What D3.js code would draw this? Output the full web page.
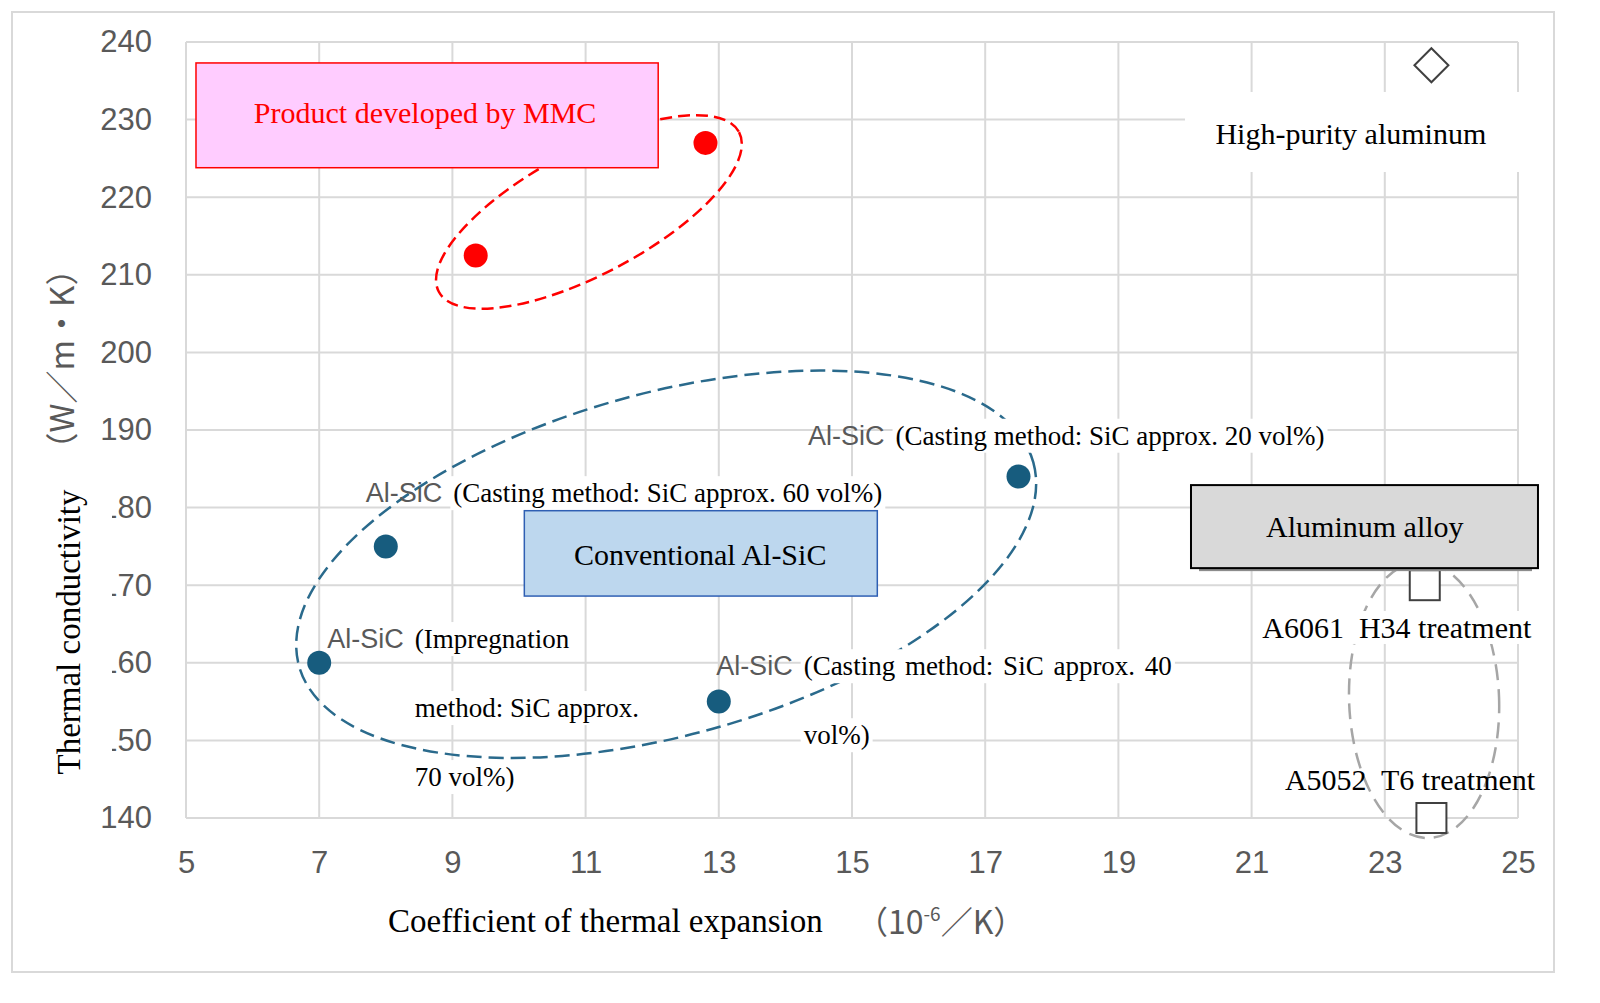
<!DOCTYPE html>
<html>
<head>
<meta charset="utf-8">
<script src="https://cdn.jsdelivr.net/npm/d3@7"></script>
<style>
  body { margin: 0; background: #fff; }
  svg { display: block; }
</style>
</head>
<body>
<svg id="chart" width="1600" height="1003"></svg>
<script>
// tick values
const xTicks = [5, 7, 9, 11, 13, 15, 17, 19, 21, 23, 25];
const yTicks = [140, 150, 160, 170, 180, 190, 200, 210, 220, 230, 240];

// series (CTE, thermal conductivity)
const mmcPoints = [{x: 9.35, y: 212.5}, {x: 12.8, y: 227}];
const alsicPoints = [{x: 7, y: 160}, {x: 8, y: 175}, {x: 13, y: 155}, {x: 17.5, y: 184}];
const pureAlPoints = [{x: 23.7, y: 237}];
const alloyPoints = [{x: 23.6, y: 170}, {x: 23.7, y: 140}];

// point labels (anchored in data units)
const alsicLabels = [
  {x: 14.34, y: 188.1, head: 'Al-SiC', lines: ['(Casting method: SiC approx. 20 vol%)']},
  {x: 7.70, y: 180.7, head: 'Al-SiC', lines: ['(Casting method: SiC approx. 60 vol%)']},
  {x: 7.12, y: 161.9, head: 'Al-SiC', lines: ['(Impregnation', 'method: SiC approx.', '70 vol%)']},
  {x: 12.96, y: 158.4, head: 'Al-SiC', lines: ['(Casting method: SiC approx. 40', 'vol%)'], spread: 3}
];
const alloyLabels = [
  {x: 21.16, y: 163.2, text: 'A6061  H34 treatment', bg: true},
  {x: 21.50, y: 143.6, text: 'A5052  T6 treatment', bg: false}
];

// group boxes
const groupBoxes = [
  {x0: 5.15, x1: 12.09, y0: 237.3, y1: 223.8, tx: 8.59, ty: 229.6, text: 'Product developed by MMC',
   fill: '#ffccff', stroke: '#ff0000', color: '#ff0000', shadow: false},
  {x0: 10.08, x1: 15.38, y0: 179.6, y1: 168.6, tx: 12.72, ty: 172.6, text: 'Conventional Al-SiC',
   fill: '#bdd7ee', stroke: '#2f5fb3', color: '#000', shadow: false},
  {x0: 20.09, x1: 25.30, y0: 182.9, y1: 172.2, tx: 22.70, ty: 176.2, text: 'Aluminum alloy',
   fill: '#d9d9d9', stroke: '#000', color: '#000', shadow: true}
];

// dashed group outlines: centre in data units, radii in px, angle in degrees
const groupEllipses = [
  {cx: 11.05, cy: 218.1, rx: 170, ry: 62, angle: -28, color: '#ff0000', dash: '12,6'},
  {cx: 12.21, cy: 172.7, rx: 381, ry: 171, angle: -15.5, color: '#2a6a8c', dash: '15,7'},
  {cx: 23.59, cy: 155.2, rx: 75, ry: 138, angle: -2, color: '#a6a6a6', dash: '16,9'}
];

const serif = '"Liberation Serif", "Times New Roman", serif';
const sans = '"Liberation Sans", Arial, sans-serif';
const cjk = '"Noto Sans CJK JP", sans-serif';
const grey = '#595959';

const svg = d3.select('#chart');
const margin = {left: 186, right: 82, top: 42, bottom: 185};
const width = 1600, height = 1003;

const xScale = d3.scaleLinear().domain([5, 25]).range([margin.left, width - margin.right]);
const yScale = d3.scaleLinear().domain([140, 240]).range([height - margin.bottom, margin.top]);

// outer frame
svg.append('rect')
  .attr('x', 12).attr('y', 12).attr('width', 1542).attr('height', 960)
  .attr('fill', '#fff').attr('stroke', '#d9d9d9').attr('stroke-width', 2);

// grid
const grid = svg.append('g').attr('class', 'grid');
grid.selectAll('.vgrid').data(xTicks).enter().append('line')
  .attr('x1', d => xScale(d)).attr('x2', d => xScale(d))
  .attr('y1', yScale(240)).attr('y2', yScale(140))
  .attr('stroke', '#d9d9d9').attr('stroke-width', 2);
grid.selectAll('.hgrid').data(yTicks).enter().append('line')
  .attr('y1', d => yScale(d)).attr('y2', d => yScale(d))
  .attr('x1', xScale(5)).attr('x2', xScale(25))
  .attr('stroke', '#d9d9d9').attr('stroke-width', 2);

// axes (labels only, domain and ticks hidden)
const xAxis = d3.axisBottom(xScale).tickValues(xTicks).tickSize(0).tickPadding(33);
const xAxisG = svg.append('g').attr('transform', `translate(0, ${yScale(140)})`).call(xAxis);
xAxisG.select('.domain').remove();
xAxisG.selectAll('text').attr('font-family', sans).attr('font-size', 31).attr('fill', grey);

const yAxis = d3.axisLeft(yScale).tickValues(yTicks).tickSize(0).tickPadding(34);
const yAxisG = svg.append('g').attr('transform', `translate(${xScale(5)}, 0)`).call(yAxis);
yAxisG.select('.domain').remove();
yAxisG.selectAll('text').attr('font-family', sans).attr('font-size', 31).attr('fill', grey);

// y title: its white text box sits over the leading digit of some tick labels
svg.append('rect')
  .attr('x', 40).attr('y', 482).attr('width', 72).attr('height', 300).attr('fill', '#fff');
svg.append('text')
  .attr('transform', `translate(80, 632) rotate(-90)`)
  .attr('text-anchor', 'middle')
  .attr('font-family', serif).attr('font-size', 33).attr('fill', '#000')
  .text('Thermal conductivity');
svg.append('text')
  .attr('transform', `translate(74, 359) rotate(-90)`)
  .attr('text-anchor', 'middle')
  .attr('font-family', cjk).attr('font-size', 33).attr('fill', grey)
  .text('（W／m・K）');

// x title
svg.append('text')
  .attr('x', 388).attr('y', 932)
  .attr('font-family', serif).attr('font-size', 33).attr('fill', '#000')
  .text('Coefficient of thermal expansion');
const unit = svg.append('text')
  .attr('x', 856).attr('y', 934)
  .attr('font-family', cjk).attr('font-size', 32).attr('fill', grey);
unit.append('tspan').text('（10');
unit.append('tspan').attr('font-size', 19).attr('dy', -13).text('-6');
unit.append('tspan').attr('dy', 13).text('／K）');

// white backing behind the high-purity label
svg.append('rect')
  .attr('x', xScale(20.0)).attr('y', yScale(233.56))
  .attr('width', xScale(25.03) - xScale(20.0)).attr('height', yScale(223.25) - yScale(233.56))
  .attr('fill', '#fff');
svg.append('text')
  .attr('x', xScale(22.49)).attr('y', yScale(226.86))
  .attr('text-anchor', 'middle')
  .attr('font-family', serif).attr('font-size', 30).attr('fill', '#000')
  .text('High-purity aluminum');

// ellipses
svg.selectAll('.group-ellipse').data(groupEllipses).enter().append('ellipse')
  .attr('class', 'group-ellipse')
  .attr('transform', d => `translate(${xScale(d.cx)}, ${yScale(d.cy)}) rotate(${d.angle})`)
  .attr('rx', d => d.rx).attr('ry', d => d.ry)
  .attr('fill', 'none')
  .attr('stroke', d => d.color).attr('stroke-width', 2.5)
  .attr('stroke-dasharray', d => d.dash);

// Al-SiC labels
const lineGap = 69;
alsicLabels.forEach(l => {
  const g = svg.append('g');
  const x0 = xScale(l.x), y0 = yScale(l.y);
  const bgG = g.append('g');
  const head = g.append('text')
    .attr('x', x0).attr('y', y0)
    .attr('font-family', sans).attr('font-size', 27).attr('fill', grey)
    .text(l.head);
  const bodyX = x0 + head.node().getComputedTextLength() + 11;
  l.lines.forEach((line, i) => {
    const t = g.append('text')
      .attr('x', bodyX).attr('y', y0 + i * lineGap)
      .attr('font-family', serif).attr('font-size', 27).attr('fill', '#000')
      .attr('word-spacing', i === 0 && l.spread ? l.spread : 0)
      .text(line);
    const b = t.node().getBBox();
    bgG.append('rect')
      .attr('x', b.x - 3).attr('y', b.y - 2)
      .attr('width', b.width + 6).attr('height', b.height + 4)
      .attr('fill', '#fff');
  });
});

// alloy labels
alloyLabels.forEach(l => {
  const g = svg.append('g');
  const t = g.append('text')
    .attr('x', xScale(l.x)).attr('y', yScale(l.y))
    .attr('font-family', serif).attr('font-size', 30).attr('fill', '#000')
    .attr('xml:space', 'preserve')
    .style('white-space', 'pre')
    .text(l.text);
  if (l.bg) {
    const b = t.node().getBBox();
    g.insert('rect', 'text')
      .attr('x', b.x - 2).attr('y', b.y)
      .attr('width', b.width + 4).attr('height', b.height)
      .attr('fill', '#fff');
  }
});

// points
svg.selectAll('.mmc').data(mmcPoints).enter().append('circle')
  .attr('cx', d => xScale(d.x)).attr('cy', d => yScale(d.y))
  .attr('r', 12).attr('fill', '#ff0000');

svg.selectAll('.alsic').data(alsicPoints).enter().append('circle')
  .attr('cx', d => xScale(d.x)).attr('cy', d => yScale(d.y))
  .attr('r', 12).attr('fill', '#175c7e');

svg.selectAll('.pure').data(pureAlPoints).enter().append('path')
  .attr('transform', d => `translate(${xScale(d.x)}, ${yScale(d.y)})`)
  .attr('d', 'M0,-17L17,0L0,17L-17,0Z')
  .attr('fill', '#fff').attr('stroke', '#404040').attr('stroke-width', 2);

svg.selectAll('.alloy').data(alloyPoints).enter().append('rect')
  .attr('x', d => xScale(d.x) - 15).attr('y', d => yScale(d.y) - 15)
  .attr('width', 30).attr('height', 30)
  .attr('fill', '#fff').attr('stroke', '#404040').attr('stroke-width', 2);

// group boxes
groupBoxes.forEach(b => {
  const g = svg.append('g');
  const x = xScale(b.x0), y = yScale(b.y0);
  const w = xScale(b.x1) - x, h = yScale(b.y1) - y;
  if (b.shadow) {
    g.append('rect')
      .attr('x', x + 8).attr('y', y + 3).attr('width', w - 14).attr('height', h)
      .attr('fill', '#8c8c8c');
  }
  g.append('rect')
    .attr('x', x).attr('y', y).attr('width', w).attr('height', h)
    .attr('fill', b.fill).attr('stroke', b.stroke).attr('stroke-width', b.shadow ? 2 : 1.5);
  g.append('text')
    .attr('x', xScale(b.tx)).attr('y', yScale(b.ty))
    .attr('text-anchor', 'middle')
    .attr('font-family', serif).attr('font-size', 30).attr('fill', b.color)
    .text(b.text);
});
</script>
</body>
</html>
